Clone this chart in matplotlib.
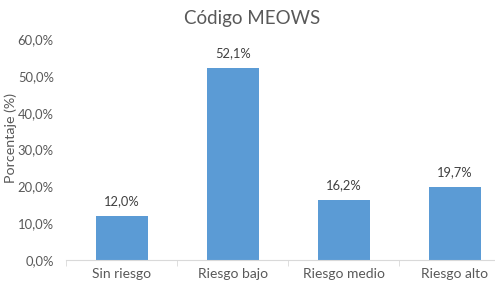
import matplotlib.pyplot as plt
from matplotlib.ticker import FuncFormatter, FixedLocator

# --------------------------------------------------
# Data
# --------------------------------------------------
categories = ["Sin riesgo", "Riesgo bajo", "Riesgo medio", "Riesgo alto"]
values = [12.0, 52.1, 16.2, 19.7]
yticks = [0, 10, 20, 30, 40, 50, 60]

plt.rcParams["font.family"] = ["Lato", "DejaVu Sans"]
text_color = "#595959"

# --------------------------------------------------
# Plot
# --------------------------------------------------
fig = plt.figure(figsize=(4.95, 2.87), dpi=100)
# axis runs past the right edge, as in the source image
ax = fig.add_axes([0.134, 0.094, 0.897, 0.77])

x = range(len(categories))
bars = ax.bar(x, values, width=0.47, color="#5B9BD5")

for b, v in zip(bars, values):
    ax.text(b.get_x() + b.get_width() / 2, v + 2.4, f"{v:.1f}%".replace(".", ","),
            ha="center", va="bottom", fontsize=9.3, color="#404040")

ax.set_xlim(-0.5, len(categories) - 0.5)
ax.set_ylim(0, 60)
ax.set_yticks(yticks)
ax.yaxis.set_major_formatter(FuncFormatter(lambda v, p: f"{v:.1f}%".replace(".", ",")))
ax.set_xticks(list(x))
ax.set_xticklabels(categories)
ax.tick_params(axis="x", length=0, pad=6, labelsize=10, colors=text_color)
ax.tick_params(axis="y", length=0, pad=9, labelsize=9.4, colors=text_color)

# minor ticks between categories on the x axis
ax.xaxis.set_minor_locator(FixedLocator([-0.5, 0.5, 1.5, 2.5, 3.5]))
ax.tick_params(axis="x", which="minor", length=4, color="#D9D9D9", direction="out")

for s in ["top", "right", "left"]:
    ax.spines[s].set_visible(False)
ax.spines["bottom"].set_color("#D9D9D9")

fig.text(0.022, 0.52, "Porcentaje (%)", rotation=90, ha="center", va="center",
         fontsize=10.3, color=text_color)
fig.text(0.51, 0.935, "Código MEOWS", ha="center", va="center",
         fontsize=13.5, color=text_color)

plt.savefig("out.png", dpi=100)
